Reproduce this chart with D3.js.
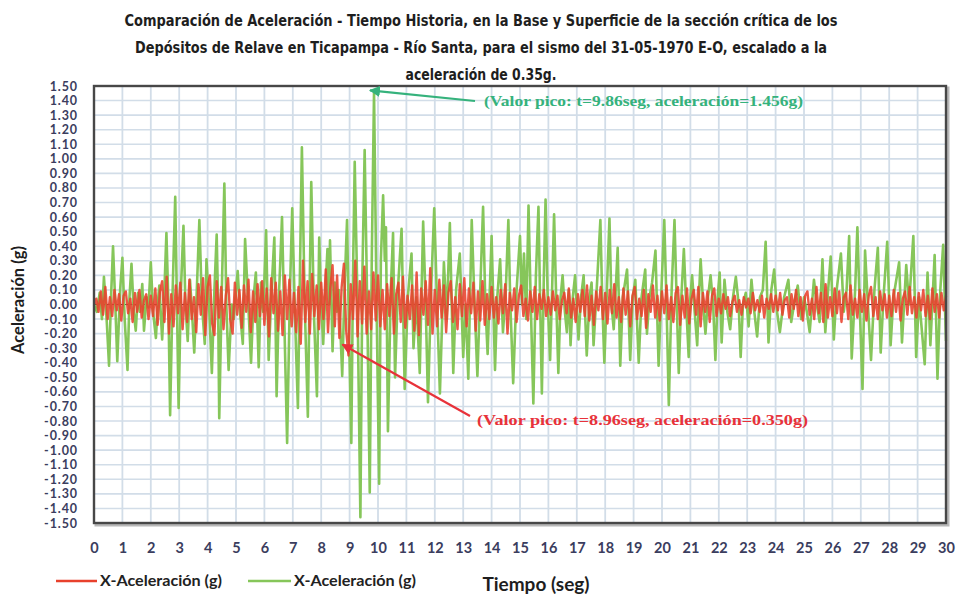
<!DOCTYPE html>
<html>
<head>
<meta charset="utf-8">
<script src="https://cdn.jsdelivr.net/npm/d3@7"></script>
<style>
  html, body { margin: 0; padding: 0; background: #ffffff; }
  svg { display: block; }
</style>
</head>
<body>
<svg id="chart" width="959" height="598"></svg>
<script>
// Título (tres líneas)
const titulo = [
  "Comparación de Aceleración - Tiempo Historia, en la Base y Superficie de la sección crítica de los",
  "Depósitos de Relave en Ticapampa - Río Santa, para el sismo del 31-05-1970 E-O, escalado a la",
  "aceleración de 0.35g."
];

// Ejes
const tiemposEje = d3.range(0, 31);                        // 0 … 30 seg
const aceleracionesEje = d3.range(-15, 16).map(d => d / 10); // -1.50 … 1.50 g

// Serie verde: superficie (t [seg], aceleración [g])
const serieVerde = [
  [0.00,0.00],[0.10,-0.05],[0.20,0.08],[0.28,-0.10],[0.35,0.19],[0.45,-0.12],[0.53,-0.42],[0.60,0.05],
  [0.67,0.40],[0.75,0.00],[0.82,-0.39],[0.92,0.10],[1.00,0.32],[1.08,-0.10],[1.18,-0.45],[1.25,0.05],
  [1.32,0.28],[1.40,-0.05],[1.47,-0.18],[1.55,0.08],[1.62,-0.05],[1.70,0.14],[1.76,-0.18],[1.85,0.05],
  [1.92,-0.02],[2.00,0.29],[2.08,-0.05],[2.18,-0.23],[2.25,0.02],[2.30,0.13],[2.40,-0.24],[2.47,0.05],
  [2.55,0.49],[2.62,0.00],[2.68,-0.76],[2.77,0.10],[2.86,0.74],[2.92,0.00],[2.98,-0.71],[3.06,0.10],
  [3.15,0.54],[3.22,0.00],[3.30,-0.25],[3.38,0.17],[3.45,-0.05],[3.53,-0.33],[3.62,0.10],[3.71,0.58],
  [3.80,0.00],[3.90,-0.27],[3.96,0.31],[4.05,0.00],[4.15,-0.47],[4.24,0.10],[4.32,0.48],[4.37,0.00],
  [4.41,-0.78],[4.50,0.10],[4.59,0.83],[4.66,0.00],[4.74,-0.45],[4.85,0.00],[4.92,-0.10],[5.00,0.10],
  [5.06,0.23],[5.14,-0.05],[5.24,-0.27],[5.32,0.45],[5.42,0.05],[5.53,-0.40],[5.62,0.05],[5.70,0.22],
  [5.80,-0.43],[5.88,0.15],[5.96,-0.05],[6.06,0.51],[6.15,-0.38],[6.25,0.10],[6.35,0.46],[6.43,-0.63],
  [6.52,0.10],[6.62,0.60],[6.70,-0.10],[6.80,-0.95],[6.90,0.10],[6.98,0.66],[7.08,-0.10],[7.18,-0.71],
  [7.25,0.20],[7.32,1.08],[7.42,0.00],[7.53,-0.77],[7.60,0.20],[7.65,0.84],[7.75,-0.10],[7.85,-0.63],
  [7.93,0.46],[8.00,0.00],[8.07,-0.27],[8.15,0.10],[8.22,0.38],[8.27,0.00],[8.31,0.44],[8.40,-0.32],
  [8.48,0.15],[8.55,-0.05],[8.62,0.10],[8.74,-0.49],[8.82,0.10],[8.91,0.58],[8.98,-0.20],[9.06,-0.95],
  [9.12,0.20],[9.18,0.98],[9.28,0.00],[9.38,-1.46],[9.45,0.20],[9.53,1.06],[9.62,0.00],[9.71,-1.29],
  [9.78,0.30],[9.86,1.456],[9.95,0.00],[10.04,-1.23],[10.10,0.30],[10.18,0.75],[10.24,0.30],[10.28,0.53],
  [10.35,-0.87],[10.45,0.10],[10.53,0.49],[10.60,-0.50],[10.70,0.10],[10.83,0.52],[10.94,-0.58],[11.05,0.05],
  [11.18,0.35],[11.25,-0.30],[11.35,0.05],[11.47,-0.47],[11.59,0.57],[11.68,0.00],[11.76,-0.67],[11.87,0.10],
  [11.98,0.66],[12.08,0.00],[12.18,-0.61],[12.32,0.29],[12.42,-0.10],[12.53,0.56],[12.65,-0.47],[12.75,0.10],
  [12.88,0.35],[13.00,-0.36],[13.08,0.00],[13.18,-0.51],[13.30,0.58],[13.40,0.00],[13.50,-0.49],[13.60,0.10],
  [13.70,0.67],[13.78,0.00],[13.86,-0.34],[14.00,0.47],[14.12,-0.45],[14.20,0.05],[14.30,0.31],[14.40,-0.19],
  [14.50,0.10],[14.59,0.58],[14.66,0.00],[14.76,-0.54],[14.88,0.10],[15.00,0.47],[15.07,0.00],[15.14,0.35],
  [15.22,-0.10],[15.30,0.68],[15.38,0.00],[15.47,-0.68],[15.56,0.20],[15.65,0.67],[15.71,0.00],[15.77,-0.61],
  [15.84,0.20],[15.90,0.72],[15.98,0.00],[16.06,-0.38],[16.13,0.10],[16.20,0.62],[16.28,0.00],[16.35,-0.47],
  [16.43,0.05],[16.50,0.20],[16.58,-0.05],[16.65,-0.19],[16.72,0.10],[16.78,-0.28],[16.86,0.05],[16.94,0.20],
  [17.06,-0.24],[17.15,0.05],[17.24,0.20],[17.35,-0.35],[17.45,0.05],[17.52,0.15],[17.59,-0.28],[17.70,0.10],
  [17.83,0.58],[17.90,0.00],[17.97,-0.40],[18.06,0.10],[18.15,0.59],[18.22,0.00],[18.30,-0.17],[18.37,0.10],
  [18.44,0.39],[18.53,-0.42],[18.62,0.05],[18.77,0.24],[18.88,-0.38],[18.97,0.05],[19.06,0.17],[19.18,-0.40],
  [19.28,0.05],[19.41,0.24],[19.47,-0.20],[19.56,0.05],[19.65,0.15],[19.77,0.37],[19.88,-0.42],[19.98,0.10],
  [20.08,0.58],[20.16,0.00],[20.24,-0.69],[20.34,0.10],[20.44,0.58],[20.52,0.00],[20.59,-0.47],[20.68,0.05],
  [20.77,0.38],[20.85,0.00],[20.94,-0.36],[21.00,0.05],[21.06,0.20],[21.15,-0.05],[21.24,-0.28],[21.30,0.05],
  [21.36,0.31],[21.45,0.00],[21.53,-0.20],[21.62,0.05],[21.71,0.20],[21.80,0.00],[21.88,-0.38],[21.96,0.05],
  [22.03,0.22],[22.10,-0.26],[22.20,0.17],[22.30,-0.05],[22.40,-0.17],[22.50,0.05],[22.60,0.19],[22.70,0.00],
  [22.77,-0.36],[22.85,0.00],[22.95,0.08],[23.05,-0.15],[23.15,0.17],[23.25,-0.05],[23.35,-0.22],[23.45,0.05],
  [23.55,0.10],[23.65,0.43],[23.75,-0.26],[23.85,0.10],[23.95,0.24],[24.05,-0.05],[24.15,-0.19],[24.30,0.05],
  [24.45,0.17],[24.55,-0.12],[24.65,0.00],[24.78,0.13],[24.90,-0.10],[25.00,0.05],[25.10,-0.05],[25.20,-0.19],
  [25.35,0.17],[25.45,0.00],[25.55,-0.12],[25.65,0.31],[25.75,-0.19],[25.85,0.10],[25.94,0.33],[26.05,-0.24],
  [26.15,0.10],[26.30,0.35],[26.40,-0.05],[26.50,0.10],[26.59,0.47],[26.68,-0.37],[26.80,0.10],[26.88,0.53],
  [26.96,0.00],[27.06,-0.58],[27.15,0.37],[27.25,0.00],[27.36,-0.38],[27.48,0.10],[27.60,0.39],[27.70,-0.33],
  [27.80,0.05],[27.93,0.43],[28.05,-0.28],[28.15,0.05],[28.35,0.29],[28.45,-0.26],[28.60,0.27],[28.70,0.00],
  [28.85,0.47],[28.95,-0.36],[29.05,0.05],[29.25,-0.41],[29.35,0.22],[29.45,-0.28],[29.60,0.34],[29.70,-0.51],
  [29.80,0.10],[29.90,0.41],[30.00,-0.25]
];

// Serie roja: base, muestreada cada 0.08 seg (0 … 30 seg)
const dtRojo = 0.08;
const acelRojo = [
  0.00,0.04,-0.05,0.09,-0.07,0.12,-0.10,0.05,-0.08,0.10,-0.04,0.07,-0.11,0.06,0.09,-0.06,0.04,-0.12,0.08,-0.05,0.10,-0.09,0.03,0.07,-0.10,
  0.06,-0.08,0.11,-0.14,0.09,0.16,-0.12,0.19,-0.20,0.07,-0.15,0.13,-0.06,0.15,-0.17,0.08,-0.12,0.17,-0.10,0.05,-0.19,0.14,-0.07,0.18,-0.21,
  0.12,0.20,-0.13,-0.21,0.16,-0.09,0.12,-0.17,0.06,0.18,-0.11,-0.20,0.15,-0.07,0.10,-0.16,0.13,-0.05,0.17,-0.19,0.09,-0.12,0.14,-0.08,0.16,
  -0.14,0.11,-0.22,0.18,-0.06,0.15,-0.18,0.09,-0.21,0.20,-0.10,0.17,-0.15,0.08,-0.19,0.12,-0.27,0.30,-0.12,0.16,-0.20,0.21,-0.08,0.13,-0.17,
  0.15,-0.10,0.24,-0.19,0.11,0.27,-0.15,0.20,-0.23,0.12,0.28,-0.18,-0.35,0.14,-0.10,0.30,-0.22,0.16,-0.13,0.26,-0.20,0.09,-0.17,0.22,-0.11,
  0.20,-0.15,0.10,-0.17,0.14,-0.08,0.18,-0.20,0.07,0.15,-0.12,0.19,-0.16,0.06,-0.10,0.13,-0.18,0.22,-0.21,0.11,-0.07,0.16,-0.14,0.25,-0.20,
  0.10,-0.15,0.17,-0.09,0.13,-0.19,0.08,0.16,-0.12,0.05,-0.17,0.14,-0.08,0.18,-0.15,0.11,-0.06,0.15,-0.18,0.09,-0.11,0.16,-0.14,0.07,-0.10,
  0.12,-0.09,0.05,-0.13,0.10,-0.06,0.14,-0.20,0.08,-0.04,0.11,-0.12,0.06,0.13,-0.08,0.04,-0.11,0.09,-0.05,0.12,-0.10,0.07,-0.03,0.10,-0.08,
  0.05,-0.07,0.09,-0.04,0.06,-0.10,0.03,0.08,-0.06,0.11,-0.09,0.04,-0.12,0.07,-0.05,0.10,-0.08,0.13,-0.11,0.06,-0.14,0.09,-0.04,0.12,-0.10,
  0.08,-0.13,0.10,-0.06,0.14,-0.09,0.05,-0.12,0.11,-0.07,0.09,-0.15,0.06,0.12,-0.10,0.04,-0.08,0.10,-0.16,0.07,-0.05,0.13,-0.09,0.06,-0.11,
  0.09,-0.06,0.13,-0.10,0.05,-0.12,0.08,0.12,-0.14,0.06,-0.09,0.11,-0.13,0.04,0.10,-0.07,0.12,-0.15,0.08,-0.05,0.09,-0.12,0.06,0.11,-0.08,
  0.04,-0.06,0.07,-0.03,0.05,-0.08,0.02,0.06,-0.05,0.03,-0.07,0.05,-0.02,0.04,-0.06,0.08,-0.04,0.03,-0.05,0.06,-0.09,0.04,-0.03,0.07,-0.05,
  0.06,-0.04,0.08,-0.07,0.03,0.05,-0.09,0.07,-0.03,0.10,-0.08,0.05,-0.11,0.06,0.09,-0.07,0.04,-0.10,0.12,-0.06,0.08,-0.12,0.14,-0.09,0.05,
  -0.08,0.11,-0.06,0.09,-0.12,0.05,0.08,-0.10,0.13,-0.07,0.04,-0.09,0.10,-0.05,0.07,-0.11,0.06,0.12,-0.08,0.05,-0.10,0.09,-0.04,0.07,-0.09,
  0.06,-0.08,0.10,-0.05,0.08,-0.11,0.04,0.09,-0.07,0.12,-0.06,0.05,-0.09,0.08,-0.04,0.10,-0.08,0.06,-0.10,0.11,-0.05,0.07,-0.09,0.08,-0.04,
  0.06
];

// Valores pico anotados
const picoVerde = { t: 9.86, a: 1.456 };
const picoRojo  = { t: 8.96, a: -0.350 };

const leyenda = [
  { nombre: "X-Aceleración (g)", color: "#e8412c" },
  { nombre: "X-Aceleración (g)", color: "#86c65a" }
];

// ---------------------------------------------------------------
const svg = d3.select("#chart");
const plot = { left: 94, right: 946, top: 86, bottom: 523 };

const x = d3.scaleLinear().domain([0, 30]).range([plot.left, plot.right]);
const y = d3.scaleLinear().domain([-1.5, 1.5]).range([plot.bottom, plot.top]);

const fuenteEje = "Lato, 'Open Sans', sans-serif";

// Título
svg.append("g").selectAll("text").data(titulo).join("text")
  .attr("x", 481)
  .attr("y", (d, i) => 26 + i * 27)
  .attr("text-anchor", "middle")
  .attr("font-family", "'Liberation Sans Narrow', 'DejaVu Sans Condensed', 'Roboto', sans-serif")
  .attr("font-weight", "bold")
  .attr("font-size", 16)
  .attr("fill", "#1e1e1e")
  .attr("textLength", (d, i) => [713, 692, 151][i])
  .attr("lengthAdjust", "spacingAndGlyphs")
  .text(d => d);

// Sombra y fondo del área de trazado
svg.append("rect")
  .attr("x", plot.left + 2).attr("y", plot.top + 2)
  .attr("width", plot.right - plot.left).attr("height", plot.bottom - plot.top)
  .attr("fill", "none").attr("stroke", "#b8b8b8").attr("stroke-width", 3);
svg.append("rect")
  .attr("x", plot.left).attr("y", plot.top)
  .attr("width", plot.right - plot.left).attr("height", plot.bottom - plot.top)
  .attr("fill", "#ffffff");

// Cuadrícula
const grid = svg.append("g");
grid.selectAll("line.h").data(aceleracionesEje).join("line")
  .attr("x1", plot.left).attr("x2", plot.right)
  .attr("y1", d => y(d)).attr("y2", d => y(d))
  .attr("stroke", "#d2dde8").attr("stroke-width", 1.6);
grid.selectAll("line.v").data(tiemposEje).join("line")
  .attr("y1", plot.top).attr("y2", plot.bottom)
  .attr("x1", d => x(d)).attr("x2", d => x(d))
  .attr("stroke", "#d2dde8").attr("stroke-width", 1.8);

// Línea de cero
svg.append("line")
  .attr("x1", plot.left).attr("x2", plot.right)
  .attr("y1", y(0)).attr("y2", y(0))
  .attr("stroke", "#3a3a3a").attr("stroke-width", 1.2);

// Series
const linea = d3.line().x(d => x(d[0])).y(d => y(d[1]));
svg.append("path")
  .datum(serieVerde)
  .attr("d", linea)
  .attr("fill", "none")
  .attr("stroke", leyenda[1].color)
  .attr("stroke-width", 2.6)
  .attr("stroke-linejoin", "round");

const datosRojo = acelRojo.map((a, i) => [i * dtRojo, a]);
svg.append("path")
  .datum(datosRojo)
  .attr("d", linea)
  .attr("fill", "none")
  .attr("stroke", leyenda[0].color)
  .attr("stroke-width", 2.4)
  .attr("stroke-opacity", 0.88)
  .attr("stroke-linejoin", "round");

// Borde del área de trazado
svg.append("rect")
  .attr("x", plot.left).attr("y", plot.top)
  .attr("width", plot.right - plot.left).attr("height", plot.bottom - plot.top)
  .attr("fill", "none").attr("stroke", "#474747").attr("stroke-width", 2.4);

// Eje Y
const ejeY = svg.append("g")
  .attr("transform", `translate(${plot.left - 16},0)`)
  .call(d3.axisLeft(y).tickValues(aceleracionesEje).tickSize(0).tickPadding(0)
    .tickFormat(d => (Math.abs(d) < 1e-9 ? 0 : d).toFixed(2)));
ejeY.select(".domain").remove();
ejeY.selectAll("text")
  .attr("font-family", fuenteEje).attr("font-weight", "bold")
  .attr("font-size", 12.5).attr("letter-spacing", 0.9).attr("fill", "#3b3d5e");

// Eje X
const ejeX = svg.append("g")
  .attr("transform", `translate(0,${plot.bottom + 20})`)
  .call(d3.axisBottom(x).tickValues(tiemposEje).tickSize(0).tickPadding(0).tickFormat(d3.format("d")));
ejeX.select(".domain").remove();
ejeX.selectAll("text")
  .attr("font-family", fuenteEje).attr("font-weight", "bold")
  .attr("font-size", 14.5).attr("fill", "#3b3d5e");

// Títulos de ejes
svg.append("text")
  .attr("transform", "translate(24,300) rotate(-90)")
  .attr("text-anchor", "middle")
  .attr("font-family", fuenteEje).attr("font-weight", "bold")
  .attr("font-size", 16.5).attr("fill", "#1e1e1e")
  .text("Aceleración (g)");
svg.append("text")
  .attr("x", 536).attr("y", 591)
  .attr("text-anchor", "middle")
  .attr("font-family", fuenteEje).attr("font-weight", "bold")
  .attr("font-size", 19).attr("fill", "#1e1e1e")
  .text("Tiempo (seg)");

// Leyenda
const posLeyenda = [{ x0: 56, x1: 97, tx: 100 }, { x0: 248, x1: 291, tx: 294 }];
const gl = svg.append("g").selectAll("g").data(leyenda).join("g");
gl.append("line")
  .attr("x1", (d, i) => posLeyenda[i].x0).attr("x2", (d, i) => posLeyenda[i].x1)
  .attr("y1", 581).attr("y2", 581)
  .attr("stroke", d => d.color).attr("stroke-width", 2.4);
gl.append("text")
  .attr("x", (d, i) => posLeyenda[i].tx).attr("y", 586)
  .attr("font-family", fuenteEje).attr("font-weight", "bold")
  .attr("font-size", 15).attr("fill", "#222")
  .attr("textLength", 122).attr("lengthAdjust", "spacingAndGlyphs")
  .text(d => d.nombre);

// Anotaciones de valores pico
const defs = svg.append("defs");
function punta(id, color) {
  defs.append("marker")
    .attr("id", id).attr("viewBox", "0 0 10 10")
    .attr("refX", 9).attr("refY", 5)
    .attr("markerWidth", 5).attr("markerHeight", 5)
    .attr("orient", "auto")
    .append("path").attr("d", "M0,0 L10,5 L0,10 z").attr("fill", color);
}
const colorVerdeTxt = "#35b27c";
const colorRojoTxt = "#e8323a";
punta("flechaVerde", colorVerdeTxt);
punta("flechaRoja", colorRojoTxt);

svg.append("line")
  .attr("x1", 475).attr("y1", 101)
  .attr("x2", x(picoVerde.t) - 4).attr("y2", y(picoVerde.a) - 2)
  .attr("stroke", colorVerdeTxt).attr("stroke-width", 2.2)
  .attr("marker-end", "url(#flechaVerde)");
svg.append("text")
  .attr("x", 484).attr("y", 106)
  .attr("font-family", "'Liberation Serif', 'Times New Roman', serif")
  .attr("font-weight", "bold").attr("font-size", 14.5)
  .attr("fill", colorVerdeTxt)
  .attr("textLength", 319).attr("lengthAdjust", "spacingAndGlyphs")
  .text(`(Valor pico: t=${picoVerde.t}seg, aceleración=${picoVerde.a.toFixed(3)}g)`);

svg.append("line")
  .attr("x1", 470).attr("y1", 416)
  .attr("x2", x(picoRojo.t) - 6).attr("y2", y(picoRojo.a) - 11)
  .attr("stroke", colorRojoTxt).attr("stroke-width", 2.2)
  .attr("marker-end", "url(#flechaRoja)");
svg.append("text")
  .attr("x", 477).attr("y", 425)
  .attr("font-family", "'Liberation Serif', 'Times New Roman', serif")
  .attr("font-weight", "bold").attr("font-size", 14.5)
  .attr("fill", colorRojoTxt)
  .attr("textLength", 331).attr("lengthAdjust", "spacingAndGlyphs")
  .text(`(Valor pico: t=${picoRojo.t}seg, aceleración=${Math.abs(picoRojo.a).toFixed(3)}g)`);
</script>
</body>
</html>
